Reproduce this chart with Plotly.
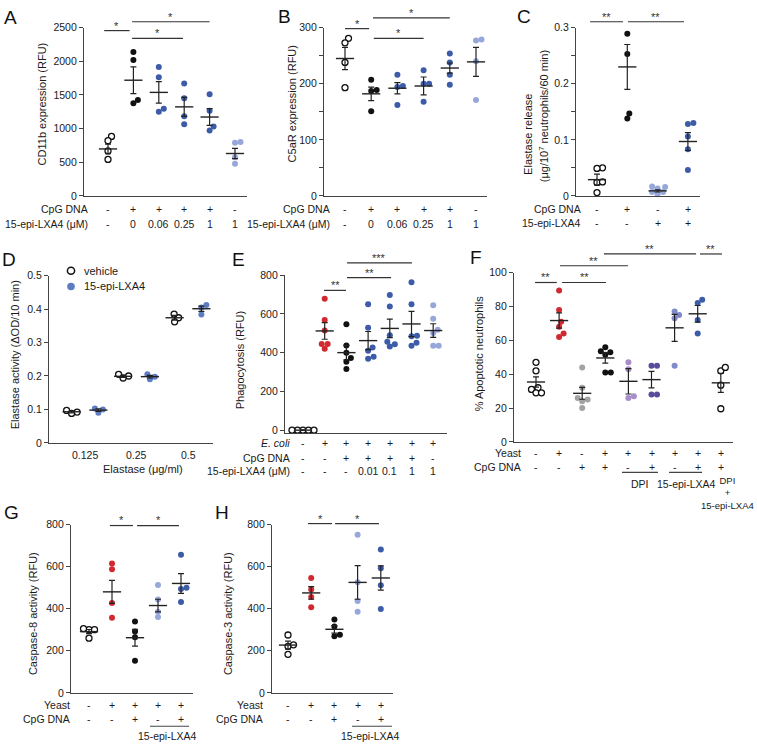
import plotly.graph_objects as go

W, H = 757, 749
FONT = "Liberation Sans, Arial, Helvetica, sans-serif"
TXT = "#1a1a1a"
AX = "#444444"
ERR = "#222222"

BLACK = "#111111"; BLUE = "#3c5ca8"; LBLUE = "#97a7d9"; RED = "#d02a30"; GRAY = "#a3a3a3"
LPURP = "#a88dcb"; DPURP = "#594a9c"; MPURP = "#8089c9"; DBLUE = "#5d7cc2"; OPEN = "open"

# ---------------- DATA ----------------
# A: CD11b expression (RFU)
A_cpg = ["-", "+", "+", "+", "+", "-"]
A_lxa = ["-", "0", "0.06", "0.25", "1", "1"]
A_values = [[884, 820, 669, 542], [2139, 2021, 1377, 1426], [1914, 1763, 1294, 1250],
            [1670, 1450, 1182, 1064], [1509, 1265, 1030, 972], [801, 791, 576, 479]]
A_means = [698, 1719, 1538, 1323, 1172, 630]
A_sems = [70, 198, 160, 140, 125, 76]
A_ticks = [0, 500, 1000, 1500, 2000, 2500]

# B: C5aR expression (RFU)
B_cpg = ["-", "+", "+", "+", "+", "-"]
B_lxa = ["-", "0", "0.06", "0.25", "1", "1"]
B_values = [[281, 273, 238, 193], [207, 187, 189, 151], [216, 196, 194, 162],
            [224, 200, 200, 168], [254, 238, 216, 198], [279, 277, 240, 171]]
B_means = [245, 182, 192, 196, 228, 239]
B_sems = [20, 12, 10, 16, 9, 26]
B_ticks = [0, 100, 200, 300]

# C: Elastase release
C_cpg = ["-", "+", "-", "+"]
C_lxa = ["-", "-", "+", "+"]
C_values = [[0.050, 0.049, 0.024, 0.025, 0.006], [0.289, 0.253, 0.147, 0.138],
            [0.016, 0.017, 0.013, 0.007, 0.007, 0.003], [0.130, 0.128, 0.106, 0.083, 0.046]]
C_means = [0.029, 0.23, 0.009, 0.097]
C_sems = [0.010, 0.040, 0.002, 0.016]
C_ticks = [0, 0.1, 0.2, 0.3]

# D: Elastase activity
D_conc = ["0.125", "0.25", "0.5"]
D_vehicle_values = [[0.092, 0.097, 0.088], [0.200, 0.194, 0.205], [0.374, 0.385, 0.362]]
D_vehicle_means = [0.093, 0.199, 0.374]
D_vehicle_sems = [0.003, 0.003, 0.007]
D_lxa_values = [[0.103, 0.090, 0.100], [0.198, 0.190, 0.205], [0.412, 0.405, 0.384]]
D_lxa_means = [0.098, 0.198, 0.401]
D_lxa_sems = [0.004, 0.004, 0.008]
D_ticks = [0, 0.1, 0.2, 0.3, 0.4, 0.5]

# E: Phagocytosis (RFU)
E_ecoli = ["-", "+", "+", "+", "+", "+", "+"]
E_cpg = ["-", "-", "+", "+", "+", "+", "-"]
E_lxa = ["-", "-", "-", "0.01", "0.1", "1", "1"]
E_values = [[0, 0, 0, 0, 0], [678, 569, 514, 444, 444, 420], [547, 437, 400, 372, 353, 316],
            [650, 529, 427, 410, 379, 368], [697, 638, 490, 456, 443, 431],
            [763, 650, 487, 485, 451, 435], [645, 575, 518, 501, 435, 435]]
E_means = [0, 512, 400, 462, 525, 548, 514]
E_sems = [1, 43, 37, 47, 48, 65, 35]
E_ticks = [0, 200, 400, 600, 800]

# F: % Apoptotic neutrophils
F_yeast = ["-", "+", "-", "+", "+", "+", "+", "+", "+"]
F_cpg = ["-", "-", "+", "+", "-", "+", "-", "+", "+"]
F_values = [[47, 42, 32, 31, 29, 29], [89.5, 78, 71, 68, 64, 62], [44, 32, 26, 25, 24, 20],
            [56, 53, 53.5, 51.5, 41, 41], [47, 43, 27, 26], [45, 45, 28, 28],
            [77, 75, 73, 45], [84, 82, 72, 64], [42, 44, 33.5, 19.6]]
F_means = [35.4, 71.7, 28.7, 49.6, 35.8, 36.8, 67.4, 75.7, 34.9]
F_sems = [3, 4.5, 3.5, 3, 7.5, 4.9, 8, 4.9, 5.6]
F_ticks = [0, 20, 40, 60, 80, 100]

# G: Caspase-8 activity (RFU)
G_yeast = ["-", "+", "+", "+", "+"]
G_cpg = ["-", "-", "+", "-", "+"]
G_values = [[300, 305, 300, 260], [615, 587, 427, 357], [339, 292, 264, 152],
            [513, 444, 386, 360], [657, 499, 494, 432]]
G_means = [291, 480, 262, 415, 520]
G_sems = [10, 55, 40, 30, 47]

# H: Caspase-3 activity (RFU)
H_yeast = ["-", "+", "+", "+", "+"]
H_cpg = ["-", "-", "+", "-", "+"]
H_values = [[275, 221, 228, 183], [546, 491, 455, 407], [349, 315, 269, 276],
            [751, 526, 437, 386], [681, 592, 512, 399]]
H_means = [227, 475, 302, 525, 546]
H_sems = [19, 30, 18, 80, 58]
GH_ticks = [0, 200, 400, 600, 800]

# ---------------- LAYOUT GEOMETRY (pixels) ----------------
MS = 6
DIAM = 5.5


def grp(xs, values, means, sems, colors):
    return [dict(x=x, v=v, m=m, s=s, c=c) for x, v, m, s, c in zip(xs, values, means, sems, colors)]


panels = [
    dict(name="A", xl=84, xr=247, yt=22, yb=193, c0=108, dc=25.4, y0=0, y1=2500, tv=A_ticks, minor=None,
         groups=grp(range(6), A_values, A_means, A_sems, [OPEN, BLACK, BLUE, BLUE, BLUE, LBLUE])),
    dict(name="B", xl=324, xr=487, yt=22, yb=193, c0=345, dc=26.2, y0=0, y1=300, tv=B_ticks, minor=50,
         groups=grp(range(6), B_values, B_means, B_sems, [OPEN, BLACK, BLUE, BLUE, BLUE, LBLUE])),
    dict(name="C", xl=576, xr=700, yt=22, yb=193, c0=597, dc=30.3, y0=0, y1=0.3, tv=C_ticks, minor=0.05,
         groups=grp(range(4), C_values, C_means, C_sems, [OPEN, BLACK, LBLUE, BLUE])),
    dict(name="D", xl=49, xr=213, yt=274, yb=444, c0=85, dc=51.5, y0=0, y1=0.5, tv=D_ticks, minor=None,
         groups=grp([i - 0.26 for i in range(3)], D_vehicle_values, D_vehicle_means, D_vehicle_sems, [OPEN] * 3)
         + grp([i + 0.26 for i in range(3)], D_lxa_values, D_lxa_means, D_lxa_sems, [DBLUE] * 3)),
    dict(name="E", xl=285, xr=447, yt=273.5, yb=434, c0=303, dc=21.7, y0=-15, y1=800, tv=E_ticks, minor=None,
         groups=grp(range(7), E_values, E_means, E_sems, [OPEN, RED, BLACK, BLUE, BLUE, BLUE, LBLUE])),
    dict(name="F", xl=514, xr=733, yt=271, yb=443, c0=536, dc=23.1, y0=0, y1=100, tv=F_ticks, minor=None,
         groups=grp(range(9), F_values, F_means, F_sems,
                    [OPEN, RED, GRAY, BLACK, LPURP, DPURP, MPURP, BLUE, OPEN])),
    dict(name="G", xl=71, xr=193, yt=527, yb=698, c0=89, dc=23.0, y0=0, y1=800, tv=GH_ticks, minor=None,
         groups=grp(range(5), G_values, G_means, G_sems, [OPEN, RED, BLACK, LBLUE, BLUE])),
    dict(name="H", xl=272, xr=393, yt=527, yb=698, c0=288, dc=23.2, y0=0, y1=800, tv=GH_ticks, minor=None,
         groups=grp(range(5), H_values, H_means, H_sems, [OPEN, RED, BLACK, LBLUE, BLUE])),
]
P = {p["name"]: p for p in panels}


def beeswarm(vals, ppu, diam):
    order = sorted(range(len(vals)), key=lambda i: vals[i])
    placed, offs = [], [0.0] * len(vals)
    for i in order:
        y = vals[i] * ppu
        k = 0
        while True:
            cands = [0.0] if k == 0 else [k * 0.5, -k * 0.5]
            ok = None
            for dx in cands:
                if all((dx - px) ** 2 + (y - py) ** 2 >= diam ** 2 for px, py in placed):
                    ok = dx
                    break
            if ok is not None:
                break
            k += 1
        placed.append((ok, y))
        offs[i] = ok
    return offs


def cat_px(p, c):
    return p["c0"] + c * p["dc"]


fig = go.Figure()
layout = {}
shapes, anns = [], []


def ann(text, px, py, size=10.5, xanchor="center", yanchor="middle", angle=0, color=TXT):
    anns.append(dict(text=text, x=px / W, y=1 - py / H, xref="paper", yref="paper", showarrow=False,
                     xanchor=xanchor, yanchor=yanchor, textangle=angle,
                     font=dict(family=FONT, size=size, color=color)))


def line(x0, y0, x1, y1, color="#333333", width=1.2):
    shapes.append(dict(type="line", xref="paper", yref="paper", x0=x0 / W, x1=x1 / W,
                       y0=1 - y0 / H, y1=1 - y1 / H, line=dict(color=color, width=width)))


def fmt(v):
    return f"{v:g}"


for k, p in enumerate(panels, start=1):
    xa = "x" if k == 1 else f"x{k}"
    ya = "y" if k == 1 else f"y{k}"
    r0 = (p["xl"] - p["c0"]) / p["dc"]
    r1 = (p["xr"] - p["c0"]) / p["dc"]
    ppu = (p["yb"] - p["yt"]) / (p["y1"] - p["y0"])
    for g in p["groups"]:
        offs = beeswarm(g["v"], ppu, DIAM)
        xs = [g["x"] + o / p["dc"] for o in offs]
        if g["c"] == OPEN:
            marker = dict(size=MS, color="white", line=dict(color=BLACK, width=1.3))
        else:
            marker = dict(size=MS, color=g["c"], line=dict(width=0))
        fig.add_trace(go.Scatter(x=xs, y=g["v"], mode="markers", marker=marker, xaxis=xa, yaxis=ya,
                                 showlegend=False, cliponaxis=False, hoverinfo="skip"))
    fig.add_trace(go.Scatter(
        x=[g["x"] for g in p["groups"]], y=[g["m"] for g in p["groups"]], mode="markers",
        marker=dict(symbol="line-ew", size=13, color=ERR, line=dict(color=ERR, width=1.4)),
        error_y=dict(type="data", array=[g["s"] for g in p["groups"]], color=ERR, thickness=1.2, width=3),
        xaxis=xa, yaxis=ya, showlegend=False, cliponaxis=False, hoverinfo="skip"))
    layout["xaxis" if k == 1 else f"xaxis{k}"] = dict(
        domain=[p["xl"] / W, p["xr"] / W], range=[r0, r1], anchor=ya, showline=True, linecolor=AX,
        linewidth=1.2, ticks="", showticklabels=False, showgrid=False, zeroline=False, fixedrange=True)
    yax = dict(
        domain=[1 - p["yb"] / H, 1 - p["yt"] / H], range=[p["y0"], p["y1"]], anchor=xa, showline=True,
        linecolor=AX, linewidth=1.2, ticks="outside", ticklen=4, tickwidth=1.2, tickcolor=AX,
        tickvals=p["tv"], ticktext=[fmt(v) for v in p["tv"]], tickfont=dict(family=FONT, size=10.5, color=TXT),
        showgrid=False, zeroline=False, fixedrange=True)
    if p["minor"]:
        yax["minor"] = dict(tick0=0, dtick=p["minor"], ticks="outside", ticklen=4, tickwidth=1.2,
                            tickcolor=AX, showgrid=False)
    layout["yaxis" if k == 1 else f"yaxis{k}"] = yax

# ---------------- significance bars ----------------
sig = {
    "A": [(-0.15, 0.85, 25, "*"), (0.95, 4.0, 16, "*"), (0.95, 2.95, 33, "*")],
    "B": [(0.0, 0.92, 23, "*"), (1.07, 4.0, 12, "*"), (1.1, 3.0, 33, "*")],
    "C": [(-0.23, 0.86, 16, "**"), (1.02, 2.87, 16, "**")],
    "E": [(0.97, 1.98, 289, "**"), (2.03, 4.06, 276, "**"), (2.03, 5.02, 261, "***")],
    "F": [(-0.04, 0.9, 281, "**"), (1.13, 3.03, 281, "**"), (1.04, 3.98, 264, "**"),
          (2.94, 6.93, 252, "**"), (7.1, 8.05, 252, "**")],
    "G": [(0.91, 1.91, 528, "*"), (2.09, 3.91, 528, "*")],
    "H": [(0.86, 1.9, 526, "*"), (2.03, 3.92, 526, "*")],
}
for name, bars in sig.items():
    p = P[name]
    for c0, c1, py, t in bars:
        x0, x1 = cat_px(p, c0), cat_px(p, c1)
        line(x0, py, x1, py)
        ann(t, (x0 + x1) / 2, py + 3, size=11, yanchor="bottom", color="#333333")

# ---------------- row labels ----------------
def rows(p, right, specs):
    for title, vals, py in specs:
        ann(title, right, py, xanchor="right")
        for i, v in enumerate(vals):
            ann(v, cat_px(p, i), py)

rows(P["A"], 90, [("CpG DNA", A_cpg, 206), ("15-epi-LXA4 (μM)", A_lxa, 222)])
rows(P["B"], 332, [("CpG DNA", B_cpg, 206), ("15-epi-LXA4 (μM)", B_lxa, 222)])
rows(P["C"], 583, [("CpG DNA", C_cpg, 206), ("15-epi-LXA4", C_lxa, 221)])
rows(P["E"], 292, [("<i>E. coli</i>", E_ecoli, 444), ("CpG DNA", E_cpg, 459), ("15-epi-LXA4 (μM)", E_lxa, 473)])
rows(P["F"], 523, [("Yeast", F_yeast, 454), ("CpG DNA", F_cpg, 469)])
rows(P["G"], 72, [("Yeast", G_yeast, 710), ("CpG DNA", G_cpg, 725)])
rows(P["H"], 265, [("Yeast", H_yeast, 710), ("CpG DNA", H_cpg, 725)])

# D x tick labels and title
for i, t in enumerate(D_conc):
    ann(t, cat_px(P["D"], i), 456)
ann("Elastase (μg/ml)", 143, 471, size=11)

# F group brackets
pF = P["F"]
line(cat_px(pF, 3.72), 474, cat_px(pF, 5.28), 474, color=AX)
ann("DPI", cat_px(pF, 4.5), 486)
line(cat_px(pF, 5.76), 474, cat_px(pF, 7.19), 474, color=AX)
ann("15-epi-LXA4", cat_px(pF, 6.5), 486)
ann("DPI<br>+<br>15-epi-LXA4", 727, 495, size=9.5)

# G/H brackets
pG, pH = P["G"], P["H"]
line(cat_px(pG, 2.65), 732, cat_px(pG, 4.35), 732, color=AX)
ann("15-epi-LXA4", cat_px(pG, 3.4), 742)
line(cat_px(pH, 2.76), 732, cat_px(pH, 4.48), 732, color=AX)
ann("15-epi-LXA4", cat_px(pH, 3.55), 742)

# D legend
def circle(cx, cy, r, fill, edge, lw):
    shapes.append(dict(type="circle", xref="paper", yref="paper", x0=(cx - r) / W, x1=(cx + r) / W,
                       y0=1 - (cy + r) / H, y1=1 - (cy - r) / H, fillcolor=fill,
                       line=dict(color=edge, width=lw)))

circle(71, 269, 3.6, "white", BLACK, 1.5)
circle(71, 285, 3.8, DBLUE, DBLUE, 0)
ann("vehicle", 82, 269, size=11, xanchor="left")
ann("15-epi-LXA4", 82, 285, size=11, xanchor="left")

# axis titles
ann("CD11b expression (RFU)", 42, 100, size=11, angle=-90)
ann("C5aR expression (RFU)", 292, 100, size=11, angle=-90)
ann("Elastase release", 528, 131, size=11, angle=-90)
ann("(μg/10<sup>7</sup> neutrophils/60 min)", 544, 112, size=11, angle=-90)
ann("Elastase activity (ΔOD/10 min)", 15, 355, size=11, angle=-90)
ann("Phagocytosis (RFU)", 240, 360, size=11, angle=-90)
ann("% Apoptotic neutrophils", 479, 354, size=11, angle=-90)
ann("Caspase-8 activity (RFU)", 33, 618, size=11, angle=-90)
ann("Caspase-3 activity (RFU)", 228, 618, size=11, angle=-90)

# panel letters
for letter, px, py in [("A", 2, 12), ("B", 276, 11), ("C", 515, 11), ("D", 0, 258), ("E", 230, 258),
                       ("F", 468, 256), ("G", 2, 515), ("H", 213, 515)]:
    ann(letter, px, py, size=19, xanchor="left", color="#111111")

fig.update_layout(width=W, height=H, margin=dict(l=0, r=0, t=0, b=0), paper_bgcolor="white",
                  plot_bgcolor="white", showlegend=False, shapes=shapes, annotations=anns, **layout)
fig.write_html("out.html", config={"displayModeBar": False},
               post_script="document.body.style.margin='0';document.body.style.padding='0';")
